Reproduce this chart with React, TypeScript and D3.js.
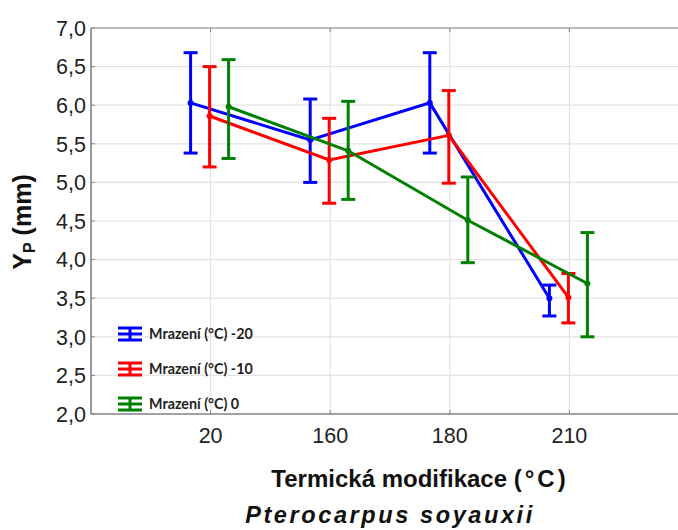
import React from "react";
import * as d3 from "d3";

const categories = ["20", "160", "180", "210"];
const seriesNames = ["Mrazení (°C) -20", "Mrazení (°C) -10", "Mrazení (°C) 0"];
const seriesColors = ["#0000ff", "#ff0000", "#008000"];
const seriesOffsets = [-20, -1, 18];

// means and confidence limits per series, in category order
const meanM20 = [6.03, 5.55, 6.03, 3.5];
const lowM20 = [5.38, 5.0, 5.38, 3.27];
const highM20 = [6.68, 6.08, 6.68, 3.67];

const meanM10 = [5.86, 5.29, 5.61, 3.51];
const lowM10 = [5.2, 4.73, 4.99, 3.18];
const highM10 = [6.5, 5.83, 6.19, 3.82];

const mean0 = [5.98, 5.41, 4.51, 3.69];
const low0 = [5.31, 4.78, 3.96, 3.0];
const high0 = [6.59, 6.05, 5.07, 4.35];

const yTicks = [2, 2.5, 3, 3.5, 4, 4.5, 5, 5.5, 6, 6.5, 7];

const width = 678;
const height = 530;
const margin = { top: 28, right: -11, bottom: 116, left: 91 };

const series = [
  { mean: meanM20, low: lowM20, high: highM20 },
  { mean: meanM10, low: lowM10, high: highM10 },
  { mean: mean0, low: low0, high: high0 },
];

export default function App() {
  const x = d3
    .scalePoint<string>()
    .domain(categories)
    .range([margin.left, width - margin.right])
    .padding(1);

  const y = d3
    .scaleLinear()
    .domain([2, 7])
    .range([height - margin.bottom, margin.top]);

  const fmt = (d: number) => d3.format(".1f")(d).replace(".", ",");
  const line = d3
    .line<[number, number]>()
    .x((d) => d[0])
    .y((d) => d[1]);

  const x0 = margin.left;
  const x1 = width - margin.right;
  const y0 = height - margin.bottom;
  const capW = 7;

  return (
    <svg
      width={width}
      height={height}
      style={{ position: "absolute", left: 0, top: 0, background: "#fff" }}
      fontFamily="'Liberation Sans', Arial, sans-serif"
    >
      {/* grid */}
      {yTicks.map((t) => (
        <line key={"gy" + t} x1={x0} x2={x1} y1={y(t)} y2={y(t)} stroke="#e3e3e3" strokeWidth={1.2} />
      ))}
      {categories.map((c) => (
        <line key={"gx" + c} x1={x(c)} x2={x(c)} y1={margin.top} y2={y0} stroke="#e3e3e3" strokeWidth={1.2} />
      ))}

      {/* frame */}
      <line x1={x0} x2={x1} y1={margin.top} y2={margin.top} stroke="#8a8a8a" strokeWidth={1.2} />
      <line x1={x0} x2={x0} y1={margin.top} y2={y0} stroke="#555" strokeWidth={1.2} />
      <line x1={x0} x2={x1} y1={y0} y2={y0} stroke="#555" strokeWidth={1.2} />
      {categories.map((c) => (
        <g key={"tk" + c}>
          <line x1={x(c)} x2={x(c)} y1={margin.top} y2={margin.top + 4} stroke="#888" />
          <line x1={x(c)} x2={x(c)} y1={y0} y2={y0 - 4} stroke="#888" />
        </g>
      ))}
      {yTicks.map((t) => (
        <line key={"ty" + t} x1={x0} x2={x0 + 4} y1={y(t)} y2={y(t)} stroke="#888" />
      ))}

      {/* tick labels */}
      {yTicks.map((t) => (
        <text key={"ly" + t} x={x0 - 5} y={y(t)} dy="0.36em" textAnchor="end" fontSize={21.5} fill="#222">
          {fmt(t)}
        </text>
      ))}
      {categories.map((c) => (
        <text key={"lx" + c} x={x(c)} y={443} textAnchor="middle" fontSize={21.5} fill="#222">
          {c}
        </text>
      ))}

      {/* series */}
      {series.map((s, si) => {
        const pts: [number, number][] = s.mean.map((m, i) => [
          (x(categories[i]) as number) + seriesOffsets[si],
          y(m),
        ]);
        const col = seriesColors[si];
        return (
          <g key={"s" + si}>
            <path d={line(pts) || ""} fill="none" stroke={col} strokeWidth={3} />
            {pts.map((p, i) => (
              <g key={i} stroke={col} strokeWidth={3}>
                <line x1={p[0]} x2={p[0]} y1={y(s.low[i])} y2={y(s.high[i])} />
                <line x1={p[0] - capW} x2={p[0] + capW} y1={y(s.high[i])} y2={y(s.high[i])} />
                <line x1={p[0] - capW} x2={p[0] + capW} y1={y(s.low[i])} y2={y(s.low[i])} />
                <circle cx={p[0]} cy={p[1]} r={3} fill={col} strokeWidth={0} />
              </g>
            ))}
          </g>
        );
      })}

      {/* legend */}
      {seriesNames.map((n, i) => {
        const ly = 334 + i * 35;
        const col = seriesColors[i];
        return (
          <g key={"lg" + i}>
            <g stroke={col} strokeWidth={3}>
              <line x1={118} x2={142} y1={ly - 6} y2={ly - 6} />
              <line x1={118} x2={142} y1={ly} y2={ly} />
              <line x1={118} x2={142} y1={ly + 6} y2={ly + 6} />
              <line x1={130} x2={130} y1={ly - 6} y2={ly + 6} />
            </g>
            <text x={149} y={ly} dy="0.36em" fontFamily="Lato, sans-serif" fontWeight="bold" fontSize={14.3} fill="#222">
              {n}
            </text>
          </g>
        );
      })}

      {/* titles */}
      <text x={420} y={487} textAnchor="middle" fontWeight="bold" fontSize={24} fill="#111">
        Termická modifikace <tspan letterSpacing={3}>(°C)</tspan>
      </text>
      <text
        x={390}
        y={523}
        textAnchor="middle"
        fontWeight="bold"
        fontStyle="italic"
        fontSize={23.5}
        letterSpacing={2.6}
        fill="#111"
      >
        Pterocarpus soyauxii
      </text>
      <text
        transform="translate(31,222) rotate(-90)"
        textAnchor="middle"
        fontWeight="bold"
        fontSize={25}
        fill="#111"
      >
        Y<tspan fontSize={16} dy={4}>P</tspan>
        <tspan dy={-4}> (mm)</tspan>
      </text>
    </svg>
  );
}
